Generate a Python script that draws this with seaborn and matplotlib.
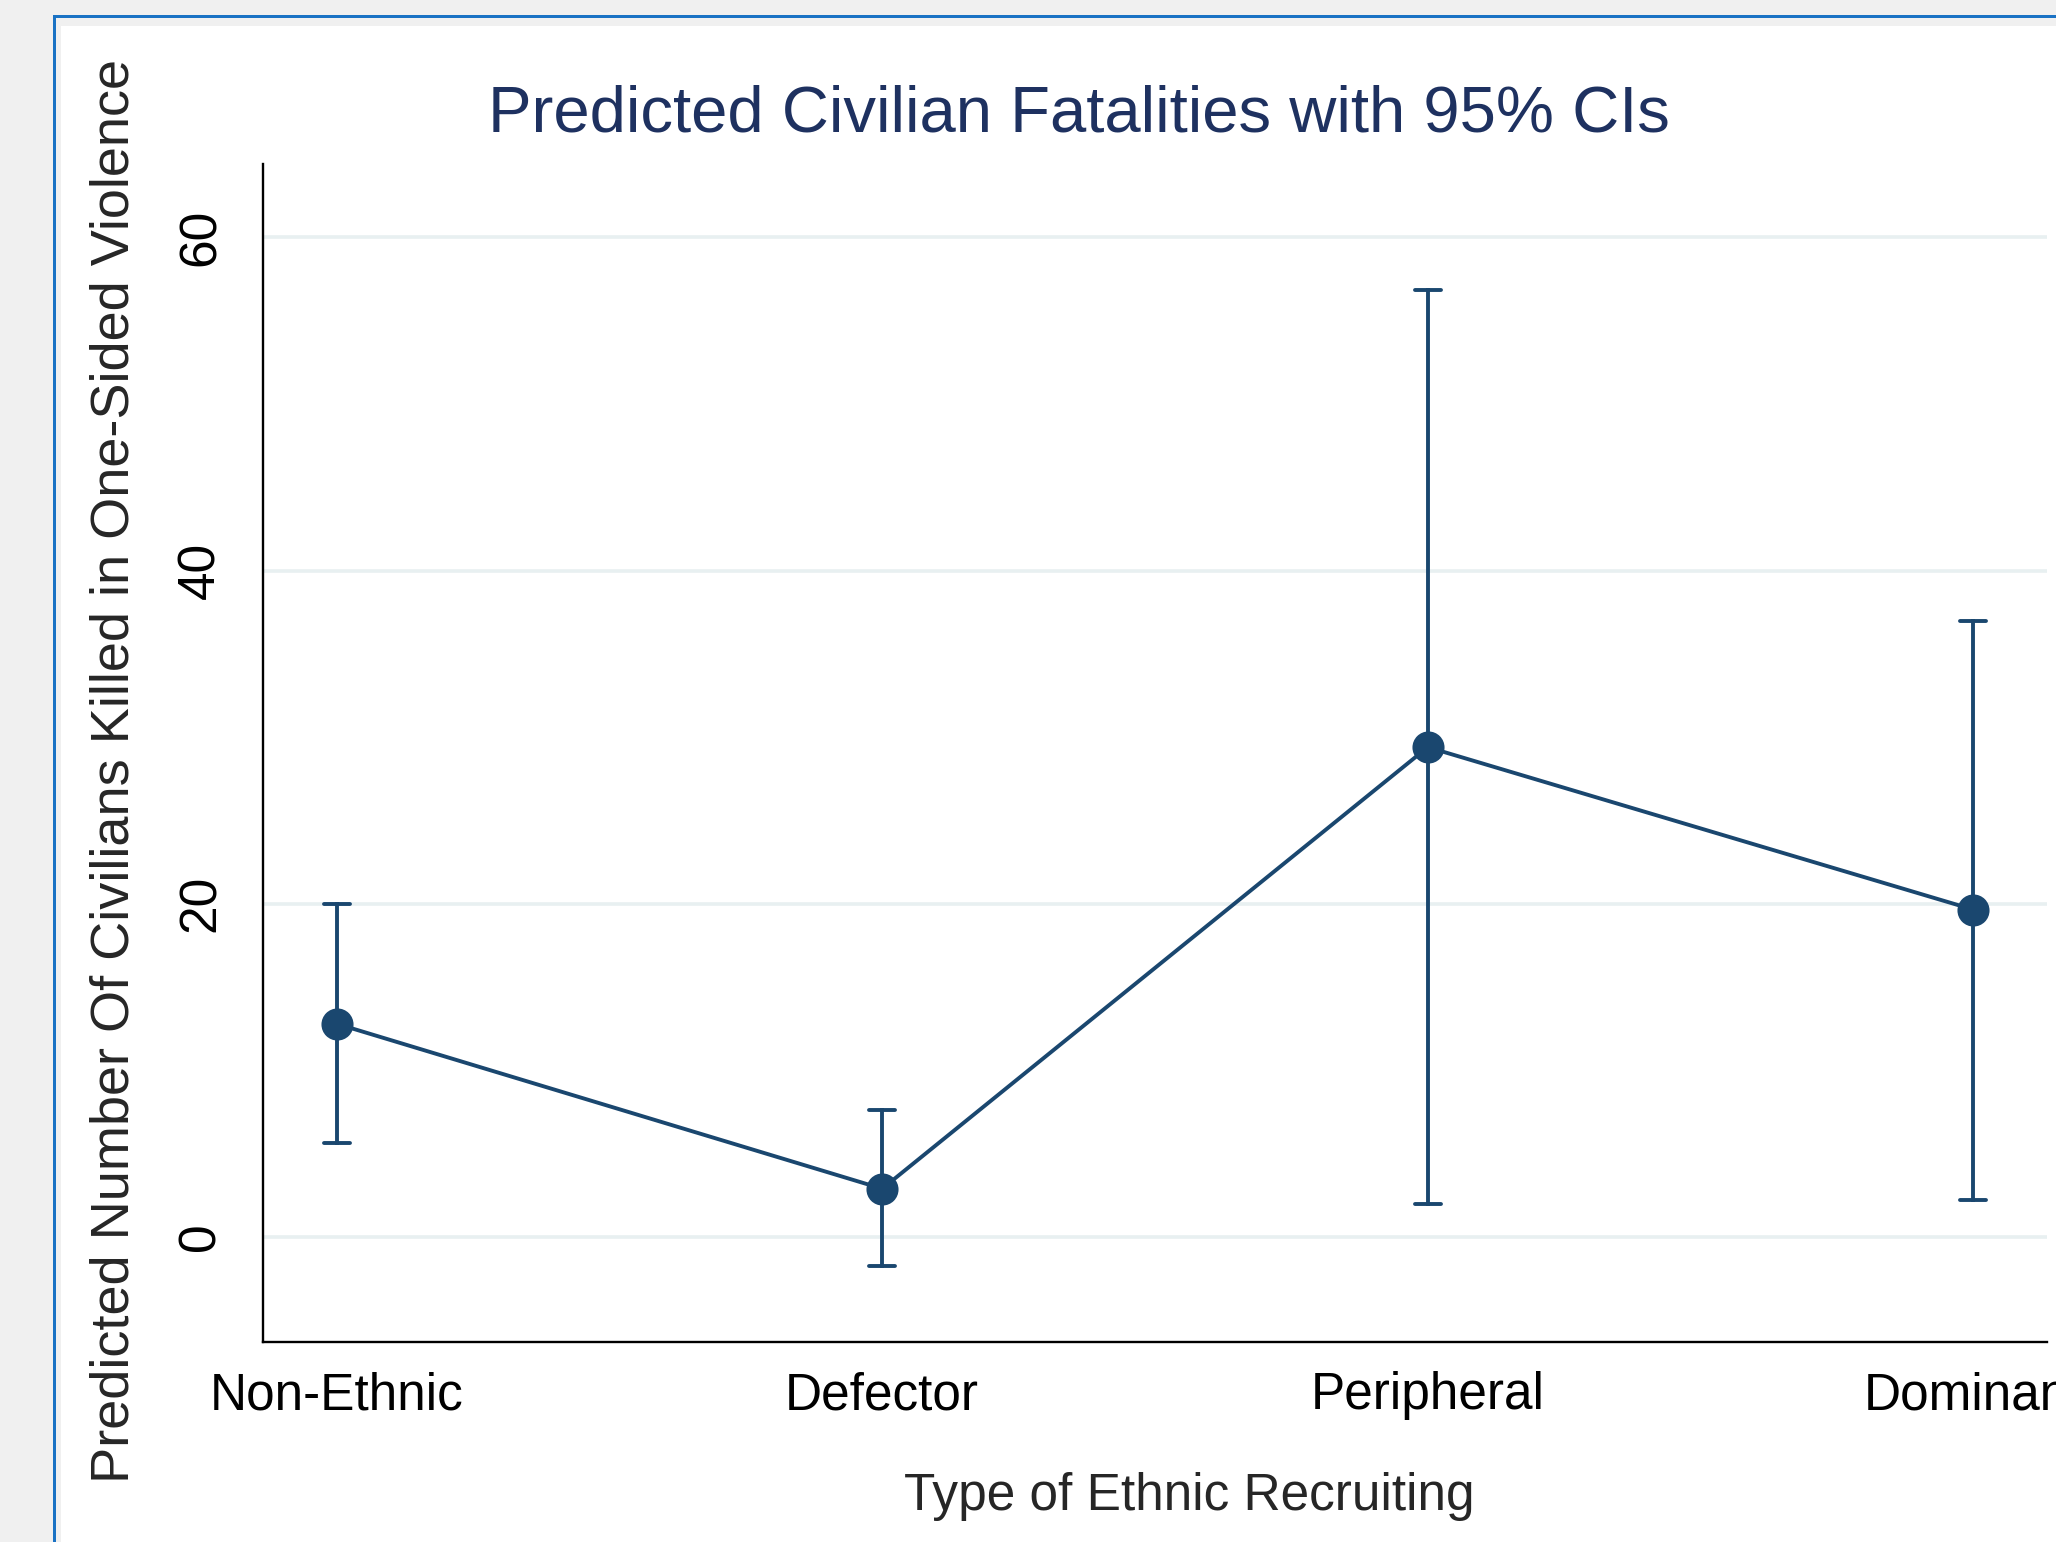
import numpy as np
import pandas as pd
import seaborn as sns
import matplotlib.pyplot as plt
from matplotlib.patches import Rectangle

# values
categories = ["Non-Ethnic", "Defector", "Peripheral", "Dominant"]
predicted = [12.8, 2.9, 29.4, 19.65]
ci_low = [5.65, -1.75, 2.0, 2.25]
ci_high = [20.0, 7.65, 56.85, 36.95]
yticks = [0, 20, 40, 60]

# long table: lo / estimate / hi per category, median = estimate, min-max = CI
rows = []
for c, lo, est, hi in zip(categories, ci_low, predicted, ci_high):
    for v in (lo, est, hi):
        rows.append({"Type": c, "Fatalities": v})
df = pd.DataFrame(rows)

sns.set_style("white")
plt.rcParams['font.family'] = ['Liberation Sans', 'DejaVu Sans']

navy = "#1a476f"
W, H = 2056, 1542
fig = plt.figure(figsize=(20.56, 15.42), dpi=100, facecolor="#f0f0f0")

# Stata window frame
fig.add_artist(Rectangle((52.5 / W, 0), 1, 1 - 15 / H, transform=fig.transFigure,
                         facecolor="#1a72c4", edgecolor="none", zorder=-3))
fig.add_artist(Rectangle((55.5 / W, 0), 1, 1 - 18 / H, transform=fig.transFigure,
                         facecolor="#f0f0f0", edgecolor="none", zorder=-2))
fig.add_artist(Rectangle((61 / W, 0), 1, 1 - 26 / H, transform=fig.transFigure,
                         facecolor="white", edgecolor="none", zorder=-1))

ax = fig.add_axes([263 / W, 1 - 1342 / H, (2047 - 263) / W, (1342 - 164) / H])
ax.set_facecolor("white")

sns.pointplot(data=df, x="Type", y="Fatalities", order=categories,
              estimator="median", errorbar=lambda v: (v.min(), v.max()),
              color=navy, markersize=21, linewidth=2.8, capsize=0.048,
              err_kws={"linewidth": 2.8}, ax=ax)

# make line / error bar strokes as heavy as the Stata ones
for ln in ax.lines:
    ln.set_linewidth(2.8)
    ln.set_solid_capstyle("round")

ax.set_xlim(-0.135, 3.135)
ax.set_ylim(-6.3, 64.4)
ax.set_yticks(yticks)
ax.yaxis.grid(True, color="#e8f0f1", linewidth=2.6)
ax.xaxis.grid(False)
ax.set_axisbelow(True)

for s in ["top", "right"]:
    ax.spines[s].set_visible(False)
for s in ["left", "bottom"]:
    ax.spines[s].set_color("black")
    ax.spines[s].set_linewidth(1.7)

ax.tick_params(axis="both", direction="out", length=15, width=1.7,
               colors="black", labelsize=37)
ax.tick_params(axis="x", pad=6)
ax.tick_params(axis="y", pad=12)
for lab in ax.get_yticklabels():
    lab.set_rotation(90)
    lab.set_va("center")

ax.set_xlabel("Type of Ethnic Recruiting", fontsize=37)
ax.xaxis.set_label_coords(0.519, -0.1426)
ax.xaxis.label.set_va("baseline")

ax.set_ylabel("Predicted Number Of Civilians Killed in One-Sided Violence", fontsize=39)
ax.yaxis.set_label_coords(-0.0754, 0.485)
ax.yaxis.label.set_va("baseline")

fig.text(1079 / W, 1 - 132 / H, "Predicted Civilian Fatalities with 95% CIs",
         ha="center", va="baseline", fontsize=47, color="#1e3160")

fig.savefig("out.png", dpi=100, facecolor=fig.get_facecolor())
